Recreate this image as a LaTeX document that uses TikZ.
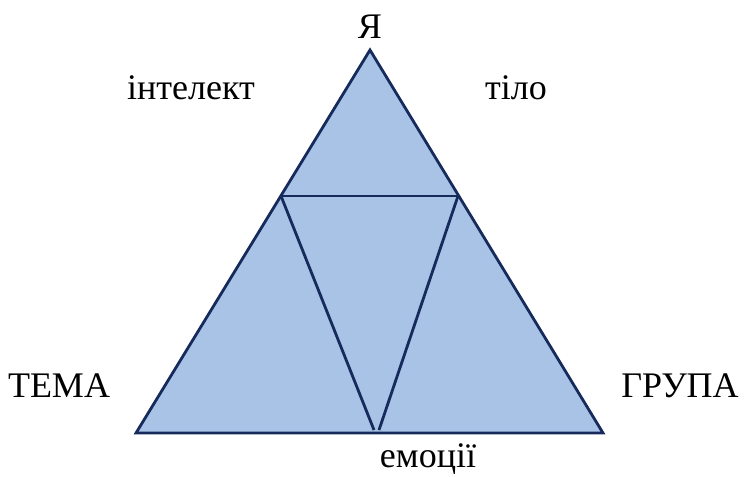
\documentclass[tikz,border=0pt]{standalone}
\usepackage{fontspec}
\setmainfont{Liberation Serif}
\usepackage{xcolor}
\usetikzlibrary{positioning, calc}
\definecolor{trifill}{RGB}{168, 195, 229}
\definecolor{triline}{RGB}{22, 42, 92}

\tikzset{
    triedge/.style={triline, line width=2.8pt, line join=miter},
    vlabel/.style={font=\fontsize{36}{40}\selectfont, inner sep=0pt, anchor=base}
}

\begin{document}
\begin{tikzpicture}[x=1pt, y=-1pt]
        \useasboundingbox (0,0) rectangle (745,477);

        % Vertices
        \coordinate (top) at (370,50);
        \coordinate (bl) at (136,433);
        \coordinate (br) at (603,433);
        \coordinate (ml) at (281,196);
        \coordinate (mr) at (458,196);
        \coordinate (dl) at (374,430);
        \coordinate (dr) at (379,430);

        % Outer triangle
        \fill[trifill] (top) -- (br) -- (bl) -- cycle;
        \draw[triedge] (top) -- (br) -- (bl) -- cycle;

        % Inner lines
        \draw[triedge] (ml) -- (mr);
        \draw[triedge] (ml) -- (dl);
        \draw[triedge] (mr) -- (dr);

        % Labels
        \node[vlabel] (ya) at (370,38) {Я};
        \node[vlabel] (intel) at (191,99) {інтелект};
        \node[vlabel] (tilo) at (516,99) {тіло};
        \node[vlabel] (tema) at (59,397) {ТЕМА};
        \node[vlabel] (grupa) at (680,397) {ГРУПА};
        \node[vlabel] (emoc) at (428,467) {емоції};
    \end{tikzpicture}
\end{document}
